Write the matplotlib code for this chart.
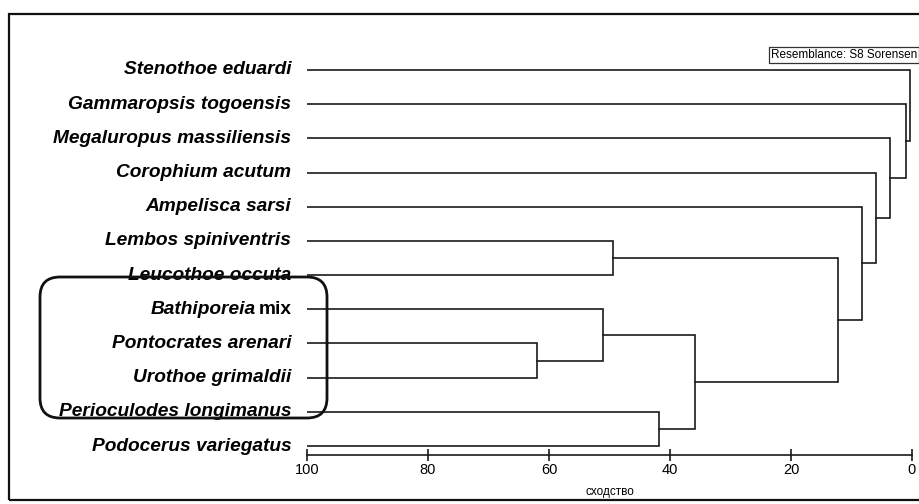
import matplotlib.pyplot as plt
from matplotlib.patches import FancyBboxPatch, Rectangle

species = ["Stenothoe eduardi", "Gammaropsis togoensis", "Megaluropus massiliensis",
           "Corophium acutum", "Ampelisca sarsi", "Lembos spiniventris",
           "Leucothoe occuta", "Bathiporeia mix", "Pontocrates arenari",
           "Urothoe grimaldii", "Perioculodes longimanus", "Podocerus variegatus"]

# merges: (node a, node b, similarity) -> new node id = 12, 13, ...
merge_a = [8, 7, 5, 10, 13, 14, 4, 3, 2, 1, 0]
merge_b = [9, 12, 6, 11, 15, 16, 17, 18, 19, 20, 21]
merge_sim = [62.0, 51.1, 49.4, 41.8, 35.9, 12.2, 8.2, 6.0, 3.6, 1.0, 0.3]

ticks = [100, 80, 60, 40, 20, 0]

fig = plt.figure(figsize=(9.2, 5.04), dpi=100)
ax = fig.add_axes([307/920, (504-455)/504, (912-307)/920, (455-20)/504])
ax.set_xlim(100, 0)
n = len(species)
ax.set_ylim(11 + 9/34.2, -50/34.2)

lc = "#1a1a1a"
ypos = {i: i for i in range(n)}
height = {i: 100.0 for i in range(n)}
for k, (a, b, s) in enumerate(zip(merge_a, merge_b, merge_sim)):
    node = n + k
    ya, yb = ypos[a], ypos[b]
    ax.plot([height[a], s, s, height[b]], [ya, ya, yb, yb], color=lc, lw=1.2,
            solid_joinstyle="miter")
    ypos[node] = (ya + yb) / 2
    height[node] = s

fs = 13.8
lab_x = 102.6
for i, name in enumerate(species):
    if name.endswith(" mix"):
        t = ax.text(lab_x, i, "mix", ha="right", va="center", fontsize=fs,
                    fontweight="bold", family="Liberation Sans")
        ax.annotate(name[:-4], xy=(0, 0.5), xycoords=t, xytext=(-2, 0),
                    textcoords="offset points", ha="right", va="center",
                    fontsize=fs, fontweight="bold", fontstyle="italic",
                    family="Liberation Sans")
    else:
        ax.text(lab_x, i, name, ha="right", va="center", fontsize=fs,
                fontweight="bold", fontstyle="italic", family="Liberation Sans")

for side in ["top", "left", "right"]:
    ax.spines[side].set_visible(False)
ax.spines["bottom"].set_color(lc)
ax.spines["bottom"].set_linewidth(1.2)
ax.set_yticks([])
ax.set_xticks(ticks)
ax.set_xticklabels([str(t) for t in ticks], family="Liberation Sans", fontsize=10.5)
ax.tick_params(axis="x", direction="inout", length=9, width=1.2, color=lc, pad=1)
ax.set_xlabel("сходство", family="Liberation Sans", fontsize=8.5, labelpad=7)
ax.patch.set_alpha(0)

# frame and highlight box (in inches)
fig.patches.append(Rectangle((0.09, 0.04), 9.3, 4.86, transform=fig.dpi_scale_trans,
                             fill=False, ec="#111", lw=1.6))
fig.patches.append(FancyBboxPatch((0.40, 0.86), 2.87, 1.41,
                                  boxstyle="round,pad=0,rounding_size=0.2",
                                  transform=fig.dpi_scale_trans,
                                  fill=False, ec="#111", lw=2.0))
fig.text(771/920, 1 - 55/504, "Resemblance: S8 Sorensen", fontsize=8.5,
         family="Liberation Sans", va="center", ha="left",
         bbox=dict(boxstyle="square,pad=0.15", fc="white", ec="#333", lw=0.9))

fig.savefig("out.png", dpi=100)
